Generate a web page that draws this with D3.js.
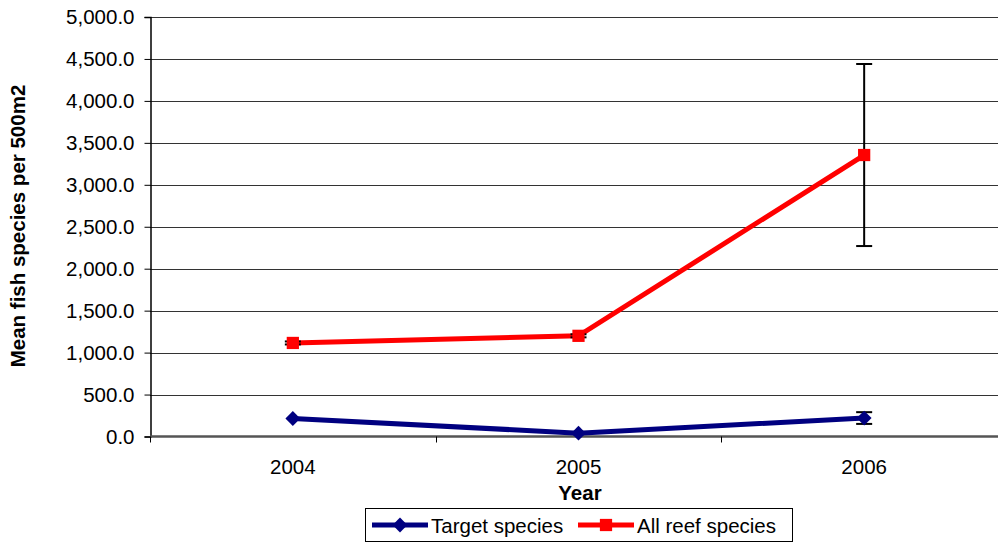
<!DOCTYPE html>
<html>
<head>
<meta charset="utf-8">
<script src="https://cdnjs.cloudflare.com/ajax/libs/d3/7.8.5/d3.min.js"></script>
<style>
  body { margin: 0; background: #fff; }
  text { font-family: "Liberation Sans", Arial, sans-serif; }
</style>
</head>
<body>
<div id="chart"></div>
<script>
// data
const years = ["2004", "2005", "2006"]
const targetMean = [215, 40, 220]
const targetErr = [0, 0, 70]
const reefMean = [1115, 1200, 3355]
const reefErr = [18, 18, 1085]
const yTicks = [0, 500, 1000, 1500, 2000, 2500, 3000, 3500, 4000, 4500, 5000]

const width = 998
const height = 544
const plotLeft = 150, plotTop = 17, plotRight = 1007, plotBottom = 436.5
const fontSize = "20.5px"

const svg = d3.select("#chart").append("svg")
  .attr("width", width)
  .attr("height", height)

const x = d3.scaleBand()
  .domain(years)
  .range([plotLeft, plotRight])

const y = d3.scaleLinear()
  .domain([0, 5000])
  .range([plotBottom, plotTop])

// gridlines
svg.append("g")
  .selectAll("line")
  .data(yTicks.filter(d => d > 0))
  .enter().append("line")
  .attr("x1", plotLeft)
  .attr("x2", plotRight)
  .attr("y1", d => Math.round(y(d)) + 0.5)
  .attr("y2", d => Math.round(y(d)) + 0.5)
  .attr("stroke", "#333")
  .attr("stroke-width", 1)

// y axis
const yAxis = d3.axisLeft(y)
  .tickValues(yTicks)
  .tickFormat(d3.format(",.1f"))
  .tickSize(6)
  .tickPadding(10)

const gy = svg.append("g")
  .attr("transform", "translate(" + (plotLeft + 0.5) + ",0)")
  .call(yAxis)
gy.select(".domain").attr("stroke", "#000").attr("stroke-width", 1.5)
gy.selectAll(".tick line").attr("stroke", "#000")
gy.selectAll("text")
  .style("font-size", fontSize)
  .attr("fill", "#000")

// x axis (ticks at band boundaries)
const gx = svg.append("g")
  .attr("transform", "translate(0," + plotBottom + ")")
gx.append("line")
  .attr("x1", plotLeft).attr("x2", plotRight)
  .attr("stroke", "#555").attr("stroke-width", 2.5)
gx.selectAll(".bound")
  .data(years)
  .enter().append("line")
  .attr("class", "bound")
  .attr("x1", d => Math.round(x(d)) + 0.5)
  .attr("x2", d => Math.round(x(d)) + 0.5)
  .attr("y1", 0).attr("y2", 6)
  .attr("stroke", "#000")
gx.selectAll(".lab")
  .data(years)
  .enter().append("text")
  .attr("class", "lab")
  .attr("x", d => x(d) + x.bandwidth() / 2)
  .attr("y", 37)
  .attr("text-anchor", "middle")
  .style("font-size", fontSize)
  .text(d => d)

// axis titles
svg.append("text")
  .attr("x", 580)
  .attr("y", 500)
  .attr("text-anchor", "middle")
  .style("font-size", fontSize)
  .style("font-weight", "bold")
  .text("Year")

svg.append("text")
  .attr("transform", "translate(25," + 226 + ") rotate(-90)")
  .attr("text-anchor", "middle")
  .style("font-size", fontSize)
  .style("font-weight", "bold")
  .text("Mean fish species per 500m2")

const cx = d => x(d) + x.bandwidth() / 2

// diamond = square turned 45 degrees
const series = [
  { name: "Target species", mean: targetMean, err: targetErr, color: "#000080", rot: 45, size: 110 },
  { name: "All reef species", mean: reefMean, err: reefErr, color: "#ff0000", rot: 0, size: 150 }
]

const line = d3.line()
  .x(d => cx(d.year))
  .y(d => y(d.v))

series.forEach(s => {
  const pts = years.map((yr, i) => ({ year: yr, v: s.mean[i], e: s.err[i] }))

  svg.append("path")
    .datum(pts)
    .attr("d", line)
    .attr("fill", "none")
    .attr("stroke", s.color)
    .attr("stroke-width", 5)

  // error bars
  const eb = svg.append("g")
    .selectAll("g")
    .data(pts.filter(p => p.e > 0))
    .enter().append("g")
  eb.append("line")
    .attr("x1", d => cx(d.year)).attr("x2", d => cx(d.year))
    .attr("y1", d => y(d.v + d.e)).attr("y2", d => y(d.v - d.e))
    .attr("stroke", "#000").attr("stroke-width", 2)
  eb.append("line")
    .attr("x1", d => cx(d.year) - 8).attr("x2", d => cx(d.year) + 8)
    .attr("y1", d => y(d.v + d.e)).attr("y2", d => y(d.v + d.e))
    .attr("stroke", "#000").attr("stroke-width", 2)
  eb.append("line")
    .attr("x1", d => cx(d.year) - 8).attr("x2", d => cx(d.year) + 8)
    .attr("y1", d => y(d.v - d.e)).attr("y2", d => y(d.v - d.e))
    .attr("stroke", "#000").attr("stroke-width", 2)

  svg.append("g")
    .selectAll("path")
    .data(pts)
    .enter().append("path")
    .attr("transform", d => "translate(" + cx(d.year) + "," + y(d.v) + ") rotate(" + s.rot + ")")
    .attr("d", d3.symbol().type(d3.symbolSquare).size(s.size))
    .attr("fill", s.color)
})

// legend
const lg = svg.append("g")
lg.append("rect")
  .attr("x", 365.5).attr("y", 508.5)
  .attr("width", 427).attr("height", 33)
  .attr("fill", "#fff").attr("stroke", "#000").attr("stroke-width", 1)
const legendX = [372, 578]
series.forEach((s, i) => {
  const g = lg.append("g").attr("transform", "translate(" + legendX[i] + ",525)")
  g.append("line").attr("x1", 0).attr("x2", 56)
    .attr("stroke", s.color).attr("stroke-width", 5)
  g.append("path")
    .attr("transform", "translate(28,0) rotate(" + s.rot + ")")
    .attr("d", d3.symbol().type(d3.symbolSquare).size(s.size))
    .attr("fill", s.color)
  g.append("text")
    .attr("x", 59).attr("y", 7.5)
    .style("font-size", fontSize)
    .text(s.name)
})
</script>
</body>
</html>
